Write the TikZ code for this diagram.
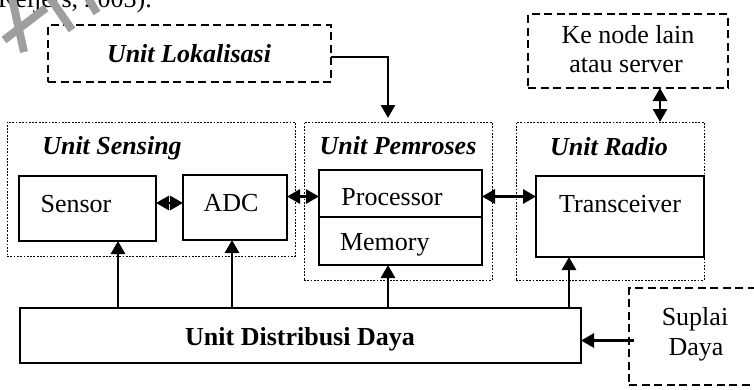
\documentclass[tikz,border=0pt]{standalone}
\usepackage{fontspec}
\setmainfont{Liberation Serif}
\usetikzlibrary{arrows.meta}
\begin{document}
\begin{tikzpicture}[x=1pt,y=-1pt,
  every node/.style={font=\fontsize{26}{30}\selectfont, inner sep=0pt, outer sep=0pt},
  solidbox/.style={draw, line width=2.8pt, rectangle, anchor=north west},
  dashbox/.style={draw, line width=2.4pt, dash pattern=on 8pt off 4.5pt, anchor=north west},
  dotbox/.style={draw, line width=0.9pt, dash pattern=on 1.8pt off 1.5pt, anchor=north west},
  title/.style={font=\fontsize{26}{30}\selectfont\bfseries\itshape, anchor=base},
  plain/.style={anchor=base},
  conn/.style={line width=2.8pt},
  tip/.style={-{Triangle[length=13pt,width=14pt]}},
  dtip/.style={{Triangle[length=13pt,width=14pt]}-{Triangle[length=13pt,width=14pt]}},
  wm/.style={line width=8pt, color=black!38}
]
\useasboundingbox (0,0) rectangle (754,389);
\clip (0,0) rectangle (754,389);

% citation line cut at the top
\node[anchor=base west] (cite) at (-2,7) {Reijers, 2003).};

% outer dotted groups
\node[dotbox, minimum width=288pt, minimum height=134pt] (sensing) at (7,122) {};
\node[dotbox, minimum width=188pt, minimum height=158pt] (pemroses) at (304,122) {};
\node[dotbox, minimum width=188pt, minimum height=158pt] (radio) at (516,122) {};

% dashed external blocks
\node[dashbox, minimum width=283pt, minimum height=57pt] (lok) at (48,25) {};
\node[dashbox, minimum width=200pt, minimum height=74pt] (kenode) at (528,14) {};
\node[dashbox, minimum width=146pt, minimum height=97pt] (suplai) at (629,288) {};

% solid blocks
\node[solidbox, minimum width=137pt, minimum height=65pt] (sensor) at (19,176) {};
\node[solidbox, minimum width=104pt, minimum height=65pt] (adc) at (183,175) {};
\node[solidbox, minimum width=163pt, minimum height=47pt] (proc) at (319,170) {};
\node[solidbox, minimum width=163pt, minimum height=48pt] (mem) at (319,217) {};
\node[solidbox, minimum width=168pt, minimum height=81pt] (trans) at (536,176) {};
\node[solidbox, minimum width=561pt, minimum height=55pt] (dist) at (20,308) {};

% labels
\node[title] (lokt) at (189,62) {Unit Lokalisasi};
\node[plain] (kt1) at (628,43) {Ke node lain};
\node[plain] (kt2) at (626,72) {atau server};
\node[title] (sensingt) at (112,154) {Unit Sensing};
\node[title] (pemt) at (398,154) {Unit Pemroses};
\node[title] (radt) at (609,155) {Unit Radio};
\node[plain] (sensort) at (76,212) {Sensor};
\node[plain] (adct) at (231,211) {ADC};
\node[plain] (proct) at (392,205) {Processor};
\node[anchor=base west] (memt) at (340,250) {Memory};
\node[plain] (transt) at (620,212) {Transceiver};
\node[plain, font=\fontsize{26}{30}\selectfont\bfseries] (distt) at (300,345) {Unit Distribusi Daya};
\node[plain] (st1) at (695,325) {Suplai};
\node[plain] (st2) at (696,355) {Daya};

% connectors
\draw[conn, tip, shorten >=4pt] ([yshift=-3.5pt]lok.east) -| ([xshift=-10pt]pemroses.north);
\draw[conn, dtip] ([xshift=32pt]kenode.south) -- ([xshift=50pt]radio.north);
\draw[conn, dtip] ([yshift=5.5pt]sensor.east) -- ([yshift=5.5pt]sensor.east -| adc.west);
\draw[conn, dtip] ([yshift=-3pt]proc.west -| adc.east) -- ([yshift=-3pt]proc.west);
\draw[conn, dtip] ([yshift=-3pt]proc.east) -- ([yshift=-3pt]proc.east -| trans.west);
\draw[conn, tip] ([xshift=30.5pt]sensor.south |- dist.north) -- ([xshift=30.5pt]sensor.south);
\draw[conn, tip] ([xshift=-3pt]adc.south |- dist.north) -- ([xshift=-3pt]adc.south);
\draw[conn, tip] ([xshift=-12.5pt]mem.south |- dist.north) -- ([xshift=-12.5pt]mem.south);
\draw[conn, tip] ([xshift=-51pt]trans.south |- dist.north) -- ([xshift=-51pt]trans.south);
\draw[conn, tip] ([xshift=5pt,yshift=-4pt]suplai.west) -- ([yshift=-4pt]suplai.west -| dist.east);

% faint watermark strokes in the corner
\draw[wm] (12,-2) -- (24,52);
\draw[wm] (4,40) -- (46,8);
\draw[wm] (50,-2) -- (72,30);
\draw[wm] (88,-2) -- (97,13);
\end{tikzpicture}
\end{document}
